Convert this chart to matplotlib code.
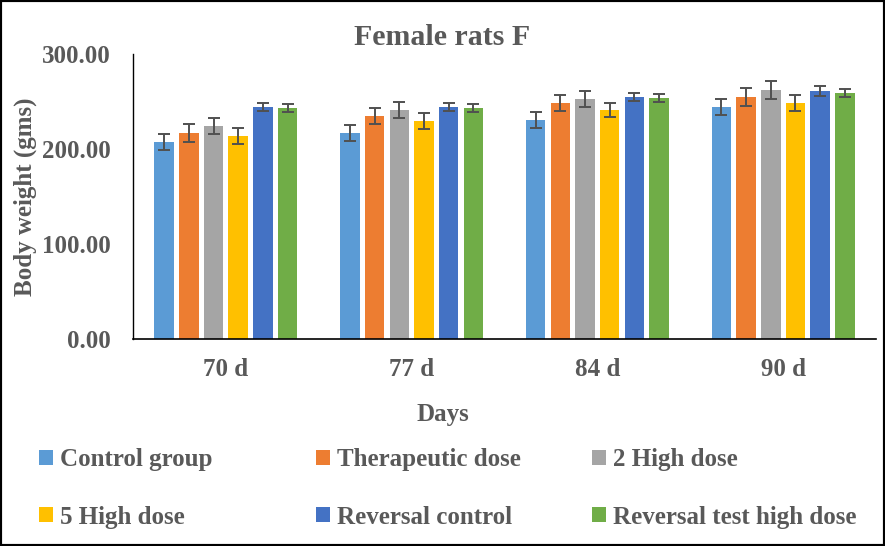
import matplotlib.pyplot as plt
import numpy as np

days = ["70 d", "77 d", "84 d", "90 d"]
groups = ["Control group", "Therapeutic dose", "2 High dose",
          "5 High dose", "Reversal control", "Reversal test high dose"]
colors = ["#5B9BD5", "#ED7D31", "#A5A5A5", "#FFC000", "#4472C4", "#70AD47"]

# mean body weight per group, one value per day
control = [207.4, 216.8, 230.5, 244.2]
therapeutic = [216.8, 234.7, 248.4, 254.7]
high2 = [224.2, 241.0, 252.6, 262.1]
high5 = [213.7, 229.5, 241.0, 248.4]
rev_control = [244.2, 244.2, 254.7, 261.0]
rev_test = [243.2, 243.2, 253.7, 258.9]

# error (SD) per group
err_control = [8, 8, 8, 8]
err_therapeutic = [9, 8, 8, 9]
err_high2 = [8, 8, 8, 9]
err_high5 = [8, 8, 7, 8]
err_rev_control = [4, 4, 4, 5]
err_rev_test = [4, 4, 4, 4]

values = [control, therapeutic, high2, high5, rev_control, rev_test]
errors = [err_control, err_therapeutic, err_high2, err_high5, err_rev_control, err_rev_test]

plt.rcParams['font.family'] = ['Liberation Serif', 'DejaVu Serif']
plt.rcParams['font.weight'] = 'bold'
gray = "#595959"

fig = plt.figure(figsize=(8.85, 5.46), dpi=100)
ax = fig.add_axes([0.1503, 0.3791, 0.8395, 0.522])

x = np.arange(len(days))
pitch = 0.133
width = 0.105
bars = []
for i in range(len(groups)):
    pos = x + (i - 2.5) * pitch
    b = ax.bar(pos, values[i], width, color=colors[i], label=groups[i],
               yerr=errors[i], capsize=4,
               error_kw=dict(ecolor="#505050", elinewidth=1.4, capthick=1.4))
    bars.append(b)

ax.set_xlim(-0.5, len(days) - 0.5)
ax.set_ylim(0, 300)
ax.set_yticks([0, 100, 200, 300])
ax.set_yticklabels(["0.00", "100.00", "200.00", "300.00"])
ax.set_xticks(x)
ax.set_xticklabels(days)
ax.tick_params(axis='y', length=0, pad=16, labelsize=18, labelcolor=gray)
ax.tick_params(axis='x', length=0, pad=14, labelsize=18, labelcolor=gray)
for s in ["top", "right"]:
    ax.spines[s].set_visible(False)
ax.spines["left"].set_color("black")
ax.spines["bottom"].set_color("black")
ax.spines["left"].set_linewidth(1)
ax.spines["bottom"].set_linewidth(1.2)

ax.set_ylabel("Body weight (gms)", fontsize=18, color=gray, fontweight='bold')
ax.yaxis.set_label_coords(-0.129, 0.5)
ax.set_xlabel("Days", fontsize=18, color=gray, fontweight='bold')
ax.xaxis.set_label_coords(0.417, -0.225)

fig.text(0.5, 0.932, "Female rats F", ha='center', va='center',
         fontsize=21.5, color=gray, fontweight='bold')

# legend in three columns
col_x = [0.044, 0.357, 0.669]
for c in range(3):
    hs = [bars[c][0], bars[c + 3][0]]
    ls = [groups[c], groups[c + 3]]
    leg = fig.legend(hs, ls, loc='upper left', bbox_to_anchor=(col_x[c], 0.179),
                     frameon=False, fontsize=18, handlelength=0.55, handleheight=0.55,
                     handletextpad=0.28, labelspacing=1.38, borderpad=0, borderaxespad=0)
    for t in leg.get_texts():
        t.set_color(gray)
        t.set_fontweight('bold')

# outer border
fig.patches.append(plt.Rectangle((0, 0), 1, 1, transform=fig.transFigure,
                                 fill=False, edgecolor='black', linewidth=3))

fig.savefig("out.png", dpi=100)
